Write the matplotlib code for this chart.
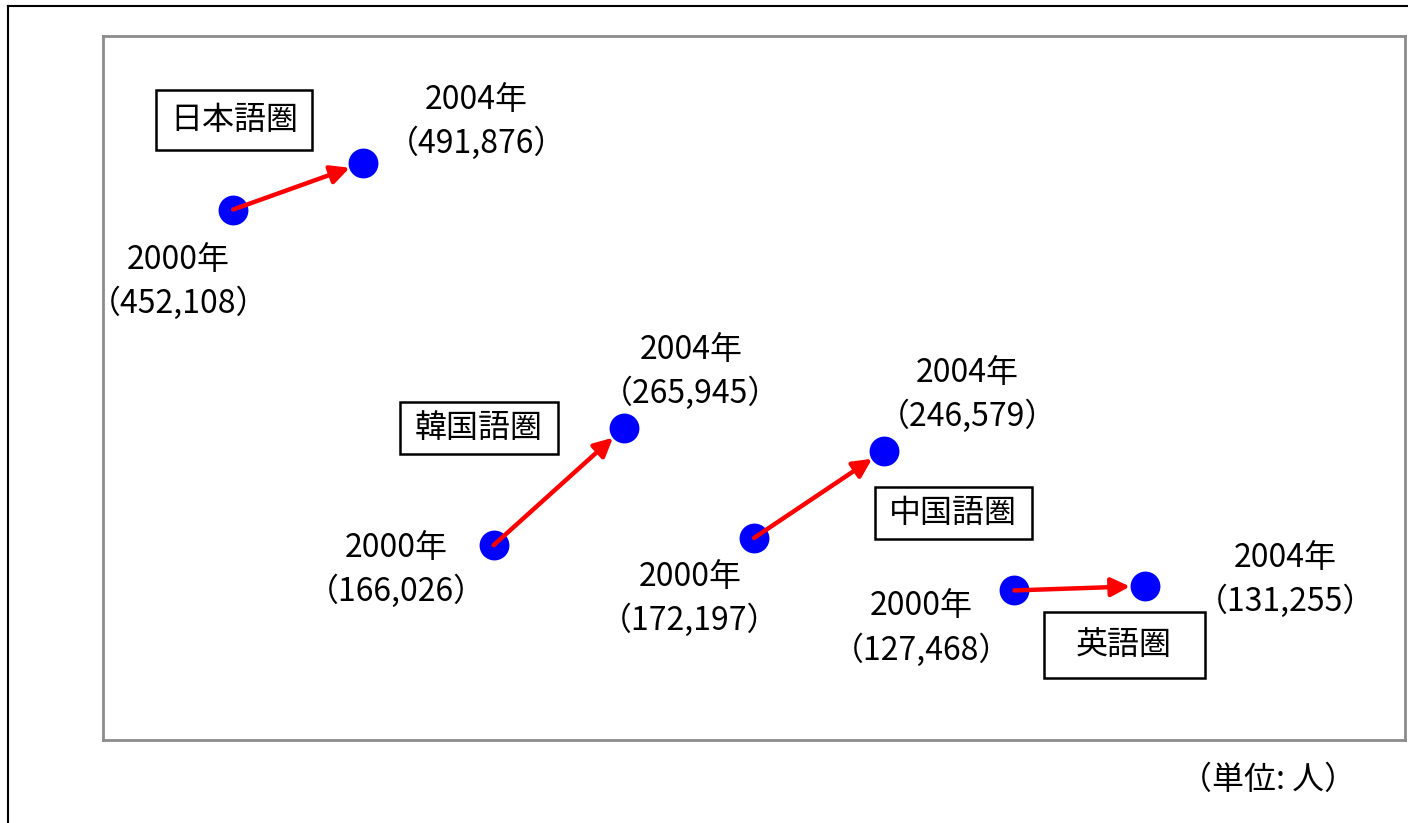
import matplotlib.pyplot as plt
from matplotlib.lines import Line2D
from matplotlib.patches import Rectangle

plt.rcParams['font.family'] = ['Noto Sans CJK JP', 'DejaVu Sans']

# learners by language region, 2000 -> 2004 (persons)
regions = ['日本語圏', '韓国語圏', '中国語圏', '英語圏']
x2000 = [1, 3, 5, 7]
x2004 = [2, 4, 6, 8]
v2000 = [452108, 166026, 172197, 127468]
v2004 = [491876, 265945, 246579, 131255]

# label offsets in pixels from each point: (2000, 2004)
off2000 = [(-55, -72), (-97, -25), (-64, -61), (-93, -38)]
off2004 = [(113, 41), (67, 56), (83, 56), (141, 6)]
# region boxes: centre and size in pixels of the axes
boxes = [(131, 620, 156, 59), (376, 312, 158, 52),
         (850, 227, 157, 52), (1021, 95, 161, 66)]

fig = plt.figure(figsize=(14.08, 8.23), dpi=100)
ax = fig.add_axes([103 / 1408, 83 / 823, 1302 / 1408, 704 / 823])
ax.set_xlim(0, 10)
ax.set_ylim(0, 600000)
ax.set_xticks([])
ax.set_yticks([])
for s in ax.spines.values():
    s.set_color('#8c8c8c')
    s.set_linewidth(2)

# outer frame (left and top only)
fig.add_artist(Line2D([8 / 1408, 8 / 1408], [0, 817 / 823], color='black', lw=1.5))
fig.add_artist(Line2D([8 / 1408, 1], [817 / 823, 817 / 823], color='black', lw=1.5))

fs = 23
for i in range(len(regions)):
    ax.plot([x2000[i], x2004[i]], [v2000[i], v2004[i]], 'o', color='#0000ff',
            markersize=21.5, markeredgewidth=0, zorder=3)
    ax.annotate('', xy=(x2004[i], v2004[i]), xytext=(x2000[i], v2000[i]),
                arrowprops=dict(arrowstyle='-|>', color='red', lw=3.2,
                                mutation_scale=28, shrinkA=0, shrinkB=10.5),
                zorder=4)
    ax.annotate('2000年\n（{:,}）'.format(v2000[i]), (x2000[i], v2000[i]),
                xytext=off2000[i], textcoords='offset pixels',
                ha='center', va='center', fontsize=fs, linespacing=1.4)
    ax.annotate('2004年\n（{:,}）'.format(v2004[i]), (x2004[i], v2004[i]),
                xytext=off2004[i], textcoords='offset pixels',
                ha='center', va='center', fontsize=fs, linespacing=1.4)
    cx, cy, w, h = boxes[i]
    ax.add_patch(Rectangle(((cx - w / 2) / 1302, (cy - h / 2) / 704), w / 1302, h / 704,
                           transform=ax.transAxes, fill=False, ec='black', lw=1.8))
    ax.text(cx / 1302, cy / 704, regions[i], transform=ax.transAxes,
            ha='center', va='center', fontsize=fs)

fig.text(1268 / 1408, 1 - 780 / 823, '（単位: 人）', ha='center', va='center', fontsize=fs)

fig.savefig('out.png', dpi=100)
